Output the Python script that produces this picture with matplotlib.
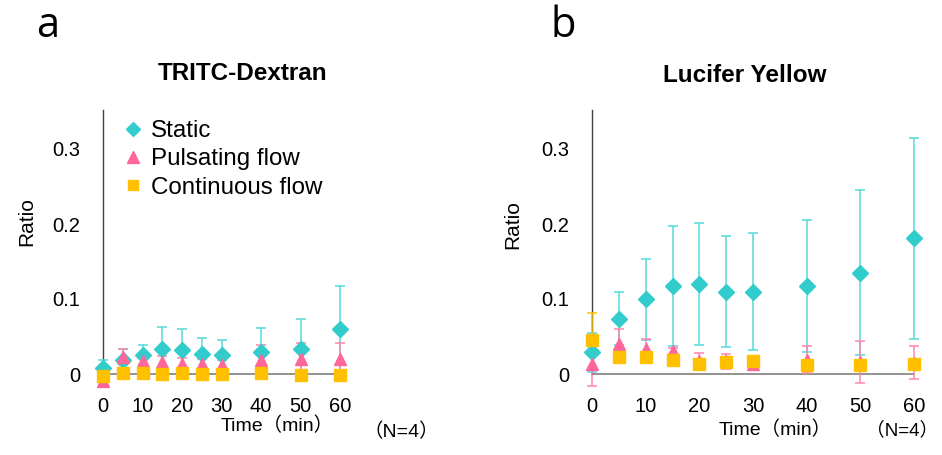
import matplotlib
matplotlib.use("Agg")
import matplotlib.pyplot as plt
from matplotlib.lines import Line2D

plt.rcParams['font.family'] = ['Liberation Sans', 'Noto Sans CJK JP', 'DejaVu Sans']

time = [0, 5, 10, 15, 20, 25, 30, 40, 50, 60]
xticks = [0, 10, 20, 30, 40, 50, 60]
yticks = [0, 0.1, 0.2, 0.3]
ytick_labels = ["0", "0.1", "0.2", "0.3"]
series_names = ["Static", "Pulsating flow", "Continuous flow"]

# Panel a: TRITC-Dextran
a_static = [0.008, 0.019, 0.026, 0.034, 0.032, 0.027, 0.025, 0.029, 0.034, 0.060]
a_static_err = [0.011, 0.015, 0.013, 0.029, 0.028, 0.021, 0.021, 0.033, 0.039, 0.057]
a_pulse = [-0.009, 0.023, 0.018, 0.016, 0.014, 0.013, 0.012, 0.019, 0.020, 0.020]
a_pulse_err = [0.006, 0.011, 0.010, 0.008, 0.008, 0.007, 0.007, 0.020, 0.021, 0.022]
a_cont = [-0.003, 0.002, 0.002, 0.000, 0.001, 0.000, 0.000, 0.001, -0.001, -0.001]
a_cont_err = [0.003, 0.002, 0.002, 0.002, 0.002, 0.002, 0.002, 0.002, 0.002, 0.002]

# Panel b: Lucifer Yellow
b_static = [0.029, 0.074, 0.100, 0.118, 0.120, 0.110, 0.110, 0.117, 0.135, 0.181]
b_static_err = [0.026, 0.035, 0.054, 0.080, 0.081, 0.074, 0.078, 0.088, 0.110, 0.134]
b_pulse = [0.013, 0.040, 0.034, 0.031, 0.018, 0.017, 0.013, 0.019, 0.016, 0.015]
b_pulse_err = [0.029, 0.020, 0.013, 0.004, 0.010, 0.010, 0.004, 0.018, 0.028, 0.022]
b_cont = [0.045, 0.023, 0.023, 0.019, 0.014, 0.016, 0.018, 0.012, 0.012, 0.013]
b_cont_err = [0.037, 0.004, 0.004, 0.004, 0.004, 0.004, 0.004, 0.004, 0.004, 0.004]

styles = [
    dict(marker='D', color='#33CCCC', ecolor='#55D8D8', ms=8),
    dict(marker='^', color='#FF6699', ecolor='#FF85AD', ms=9),
    dict(marker='s', color='#FFC000', ecolor='#FFC000', ms=8.5),
]

W, H = 942, 455
fig = plt.figure(figsize=(W / 100, H / 100), dpi=100)

YMIN, YMAX = -0.025, 0.352
TICK_FS = 14.5


def make_axes(x0, x1, y0_px):
    # y0_px: pixel of zero line ; 0.1 -> 75 px
    ppu = 750.0
    bottom_px = y0_px - YMIN * ppu
    top_px = y0_px - YMAX * ppu
    return fig.add_axes([x0 / W, 1 - bottom_px / H, (x1 - x0) / W, (bottom_px - top_px) / H])


def draw_panel(ax, data, legend=False):
    for (vals, errs), st in zip(data, styles):
        ax.errorbar(time, vals, yerr=errs, fmt=st['marker'], color=st['color'],
                    ecolor=st['ecolor'], ms=st['ms'], mec=st['color'], elinewidth=1.1,
                    capsize=3.6, capthick=1.1, clip_on=False, zorder=3)
    ax.set_xlim(0, 60)
    ax.set_ylim(YMIN, YMAX)
    for s in ['top', 'right', 'bottom']:
        ax.spines[s].set_visible(False)
    ax.spines['left'].set_bounds(0, YMAX)
    ax.spines['left'].set_color('#404040')
    ax.spines['left'].set_linewidth(1.0)
    ax.plot([0, 60], [0, 0], color='#7F7F7F', lw=1.2, zorder=1, clip_on=False)
    ax.set_xticks(xticks)
    ax.set_yticks(yticks)
    ax.set_yticklabels(ytick_labels)
    ax.tick_params(axis='both', length=0, labelsize=TICK_FS)
    ax.tick_params(axis='y', pad=16.5)
    ax.tick_params(axis='x', pad=3)
    ax.patch.set_alpha(0)
    if legend:
        handles = [Line2D([], [], ls='none', marker=st['marker'], color=st['color'],
                          ms=st['ms'] - 1) for st in styles]
        ax.legend(handles, series_names, loc='upper left', frameon=False,
                  fontsize=17.4, bbox_to_anchor=(110 / W, 1 - 108 / H),
                  bbox_transform=fig.transFigure, handletextpad=0.3,
                  labelspacing=0.26, borderpad=0, handlelength=0.9)


axa = make_axes(103, 340, 374)
draw_panel(axa, [(a_static, a_static_err), (a_pulse, a_pulse_err), (a_cont, a_cont_err)],
           legend=True)
axb = make_axes(592, 914, 374)
draw_panel(axb, [(b_static, b_static_err), (b_pulse, b_pulse_err), (b_cont, b_cont_err)])

# titles
fig.text(243 / W, 1 - 74 / H, "TRITC-Dextran", ha='center', va='center',
         fontsize=17.5, fontweight='bold')
fig.text(745 / W, 1 - 75 / H, "Lucifer Yellow", ha='center', va='center',
         fontsize=17.5, fontweight='bold')

# panel letters
fig.text(48 / W, 1 - 26 / H, "a", ha='center', va='center', fontsize=30,
         family=['Open Sans', 'DejaVu Sans'])
fig.text(563 / W, 1 - 26 / H, "b", ha='center', va='center', fontsize=30,
         family=['Open Sans', 'DejaVu Sans'])

# y labels
fig.text(27 / W, 1 - 222 / H, "Ratio", rotation=90, ha='center', va='center', fontsize=15)
fig.text(513 / W, 1 - 225 / H, "Ratio", rotation=90, ha='center', va='center', fontsize=15)

# x labels and N
fig.text(277 / W, 1 - 426 / H, "Time（min）", ha='center', va='center', fontsize=14)
fig.text(401 / W, 1 - 432 / H, "（N=4）", ha='center', va='center', fontsize=14)
fig.text(775 / W, 1 - 430 / H, "Time（min）", ha='center', va='center', fontsize=14)
fig.text(902 / W, 1 - 430 / H, "（N=4）", ha='center', va='center', fontsize=13.5)

fig.savefig("out.png", dpi=100)
